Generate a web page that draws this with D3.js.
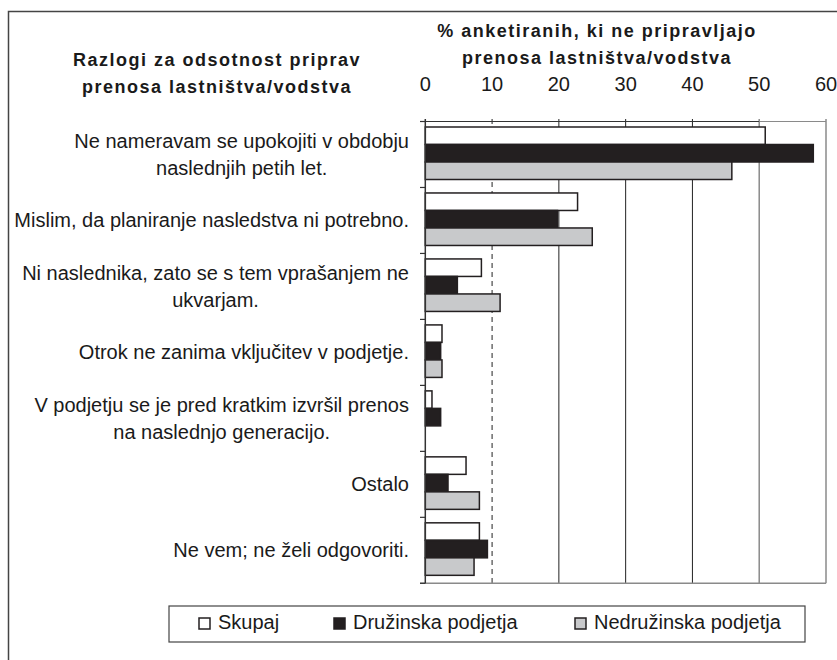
<!DOCTYPE html>
<html>
<head>
<meta charset="utf-8">
<script src="https://cdn.jsdelivr.net/npm/d3@7"></script>
<style>
  body { margin: 0; background: #fff; }
  text { font-family: "Liberation Sans", Arial, sans-serif; fill: #1a1a1a; }
</style>
</head>
<body>
<svg id="main" width="837" height="660"></svg>
<script>
// categories (each label split in lines)
const categories = [
    ["Ne nameravam se upokojiti v obdobju", "naslednjih petih let."],
    ["Mislim, da planiranje nasledstva ni potrebno."],
    ["Ni naslednika, zato se s tem vprašanjem ne", "ukvarjam."],
    ["Otrok ne zanima vključitev v podjetje."],
    ["V podjetju se je pred kratkim izvršil prenos", "na naslednjo generacijo."],
    ["Ostalo"],
    ["Ne vem; ne želi odgovoriti."]
];
const seriesNames = ["Skupaj", "Družinska podjetja", "Nedružinska podjetja"];
const skupaj = [50.9, 22.8, 8.4, 2.5, 1.0, 6.1, 8.1];
const druzinska = [58.1, 19.8, 4.8, 2.3, 2.3, 3.4, 9.3];
const nedruzinska = [45.9, 25.0, 11.2, 2.5, 0, 8.1, 7.3];
const xTicks = [0, 10, 20, 30, 40, 50, 60];
const colors = ["#ffffff", "#231f20", "#c8c9cb"];

function draw() {
    const svg = d3.select("#main");
    const series = [skupaj, druzinska, nedruzinska];

    // outer frame (only top and left are visible)
    svg.append('path')
        .attr('d', 'M8.5,660 L8.5,11.5 L837,11.5')
        .attr('fill', 'none')
        .attr('stroke', '#444')
        .attr('stroke-width', 1.5);

    const x = d3.scaleLinear().domain([0, 60]).range([425.3, 826]);
    const y = d3.scaleBand().domain(d3.range(categories.length)).range([121.5, 583.3]);
    const yIn = d3.scaleBand().domain(d3.range(3)).range([5.5, 58]);

    // grid lines
    xTicks.slice(1).forEach(t => {
        svg.append('line')
            .attr('x1', x(t)).attr('x2', x(t))
            .attr('y1', 119).attr('y2', 583.3)
            .attr('stroke', t >= 50 ? '#8a8a8a' : '#222')
            .attr('stroke-width', t >= 50 ? 1.5 : 1)
            .attr('stroke-dasharray', t == 10 ? '5,4' : null);
    });
    // top and bottom lines
    svg.append('line').attr('x1', x(0)).attr('x2', x(50)).attr('y1', 121.5).attr('y2', 121.5)
        .attr('stroke', '#333').attr('stroke-width', 1.2);
    svg.append('line').attr('x1', x(50)).attr('x2', x(60)).attr('y1', 121.5).attr('y2', 121.5)
        .attr('stroke', '#8a8a8a').attr('stroke-width', 1.2);
    svg.append('line').attr('x1', 420).attr('x2', x(60)).attr('y1', 583.3).attr('y2', 583.3)
        .attr('stroke', '#8a8a8a').attr('stroke-width', 1.5);

    // bars
    series.forEach((vals, s) => {
        svg.selectAll('.bar' + s)
            .data(vals.map((v, i) => ({v: v, i: i})).filter(d => d.v > 0))
            .enter()
            .append('rect')
            .attr('x', x(0))
            .attr('y', d => y(d.i) + yIn(s))
            .attr('width', d => x(d.v) - x(0))
            .attr('height', yIn.bandwidth())
            .attr('fill', colors[s])
            .attr('stroke', '#231f20')
            .attr('stroke-width', 1.5);
    });

    // left axis with ticks at category boundaries
    svg.append('line').attr('x1', x(0)).attr('x2', x(0)).attr('y1', 119).attr('y2', 583.3)
        .attr('stroke', '#333').attr('stroke-width', 1.5);
    for (let i = 0; i <= categories.length; i++) {
        const yy = i < categories.length ? y(i) : 583.3;
        svg.append('line').attr('x1', 420).attr('x2', x(0)).attr('y1', yy).attr('y2', yy)
            .attr('stroke', '#333').attr('stroke-width', 1.2);
    }

    // x tick labels
    svg.selectAll('.xt')
        .data(xTicks)
        .enter()
        .append('text')
        .attr('x', d => x(d))
        .attr('y', 90.5)
        .attr('text-anchor', 'middle')
        .style('font-size', '20px')
        .text(d => d);

    // category labels
    categories.forEach((lines, i) => {
        const cy = y(i) + y.bandwidth() / 2;
        const g = svg.append('text')
            .style('font-size', '20px')
            .attr('text-anchor', 'middle');
        const spans = lines.map((l, k) => g.append('tspan')
                .attr('x', 0)
                .attr('y', cy + 7 + (k - (lines.length - 1) / 2) * 27.5)
                .text(l));
        // right-align the block at x=409, lines centered to each other
        const w = d3.max(spans, sp => sp.node().getComputedTextLength());
        spans.forEach(sp => sp.attr('x', 409 - w / 2));
    });

    // titles
    const titleStyle = sel => sel
        .attr('text-anchor', 'middle')
        .style('font-size', '18px')
        .style('font-weight', 'bold')
        .style('letter-spacing', '1.5px');
    const t1 = svg.append('text').call(titleStyle);
    t1.append('tspan').attr('x', 217).attr('y', 66).text("Razlogi za odsotnost priprav");
    t1.append('tspan').attr('x', 217).attr('y', 93).text("prenosa lastništva/vodstva");

    const t2 = svg.append('text').call(titleStyle);
    t2.append('tspan').attr('x', 597).attr('y', 37).text("% anketiranih, ki ne pripravljajo");
    t2.append('tspan').attr('x', 597).attr('y', 64).text("prenosa lastništva/vodstva");

    // legend
    svg.append('rect')
        .attr('x', 169).attr('y', 606).attr('width', 636).attr('height', 36)
        .attr('fill', '#fff').attr('stroke', '#444').attr('stroke-width', 1.2);
    const legX = [199, 334, 575];
    seriesNames.forEach((n, s) => {
        svg.append('rect')
            .attr('x', legX[s]).attr('y', 618).attr('width', 11).attr('height', 11)
            .attr('fill', colors[s]).attr('stroke', '#231f20').attr('stroke-width', 1.5);
        svg.append('text')
            .attr('x', legX[s] + 19).attr('y', 629)
            .style('font-size', '20px')
            .text(n);
    });
}

draw()
</script>
</body>
</html>
